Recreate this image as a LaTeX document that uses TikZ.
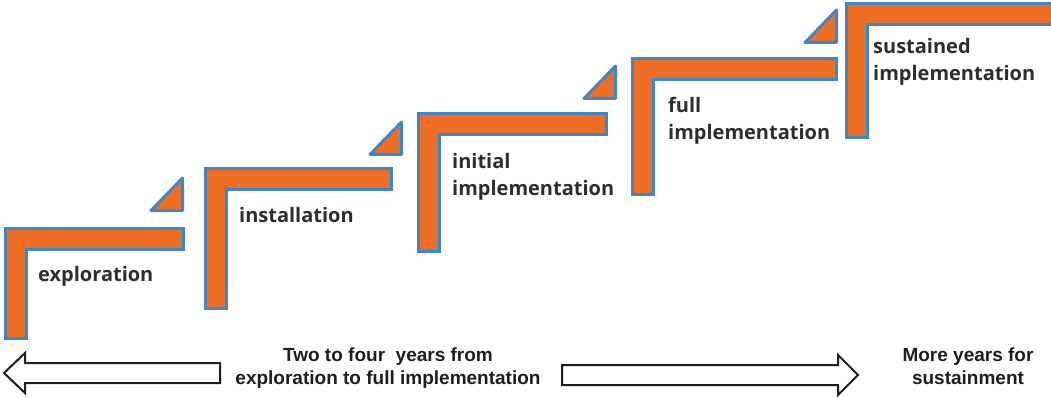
\documentclass[tikz,border=0pt]{standalone}
\usepackage{fontspec}
\setmainfont{Open Sans}
\newfontfamily\arialfont{Liberation Sans}
\definecolor{stairorange}{HTML}{EE6F24}
\definecolor{stairblue}{HTML}{3A87CF}
\definecolor{labelgray}{HTML}{2E2E2E}
\definecolor{arrowgray}{HTML}{1E1E1E}
\tikzset{
  stairbar/.style={fill=stairorange, draw=stairblue, line width=3pt, line join=miter},
  stairtri/.style={fill=stairorange, draw=stairblue, line width=3pt, line join=round},
  steplabel/.style={anchor=base west, inner sep=0pt, text=labelgray,
    font=\bfseries\fontsize{20}{27}\selectfont},
  spanlabel/.style={anchor=base, inner sep=0pt, text=arrowgray,
    font=\arialfont\bfseries\fontsize{19}{23.5}\selectfont},
  hollowarrow/.style={draw=arrowgray, line width=2pt, fill=white, line join=miter}
}
% L-shaped step: #1 left, #2 top, #3 right, #4 bottom (outer edges)
\newcommand\stairL[4]{%
  \path[stairbar] (#1+1.5,#2+1.5) -- (#3-1.5,#2+1.5) -- (#3-1.5,#2+22.5)
    -- (#1+22.5,#2+22.5) -- (#1+22.5,#4-1.5) -- (#1+1.5,#4-1.5) -- cycle;}
% small triangle: #1 right x, #2 top y
\newcommand\stairT[2]{%
  \path[stairtri] (#1-1.5,#2+2) -- (#1-1.5,#2+34.5) -- (#1-33,#2+34.5) -- cycle;}
\begin{document}
\begin{tikzpicture}[x=1pt,y=-1pt]
\useasboundingbox (0,0) rectangle (1051,398);
\clip (0,0) rectangle (1051,398);
% steps
\stairL{4}{227}{185}{340}
\stairL{204}{167}{393}{310}
\stairL{417}{112}{608}{253}
\stairL{631}{57}{838}{196}
\stairL{845}{2}{1070}{139}
% triangles
\stairT{184}{176}
\stairT{403}{120}
\stairT{617}{64}
\stairT{838}{8}
% labels
\node[steplabel] (explo) at (38,281) {exploration};
\node[steplabel] (instal) at (239,222) {installation};
\node[steplabel] (initial) at (452,168) {\begin{tabular}[t]{@{}l@{}}initial\\implementation\end{tabular}};
\node[steplabel] (full) at (668,113) {\begin{tabular}[t]{@{}l@{}}full\\implementation\end{tabular}};
\node[steplabel] (sustained) at (873,54) {\begin{tabular}[t]{@{}l@{}}sustained\\implementation\end{tabular}};
% arrows
\path[hollowarrow] (4,373) -- (25,353) -- (25,363) -- (220,363) -- (220,383)
  -- (25,383) -- (25,393) -- cycle;
\path[hollowarrow] (858,375) -- (838,355) -- (838,365) -- (562,365) -- (562,385)
  -- (838,385) -- (838,395) -- cycle;
% span labels
\node[spanlabel] (span) at (388,361) {\begin{tabular}[t]{@{}c@{}}Two to four\ \ years from\\exploration to full implementation\end{tabular}};
\node[spanlabel] (more) at (968,361) {\begin{tabular}[t]{@{}c@{}}More years for\\sustainment\end{tabular}};
\end{tikzpicture}
\end{document}
